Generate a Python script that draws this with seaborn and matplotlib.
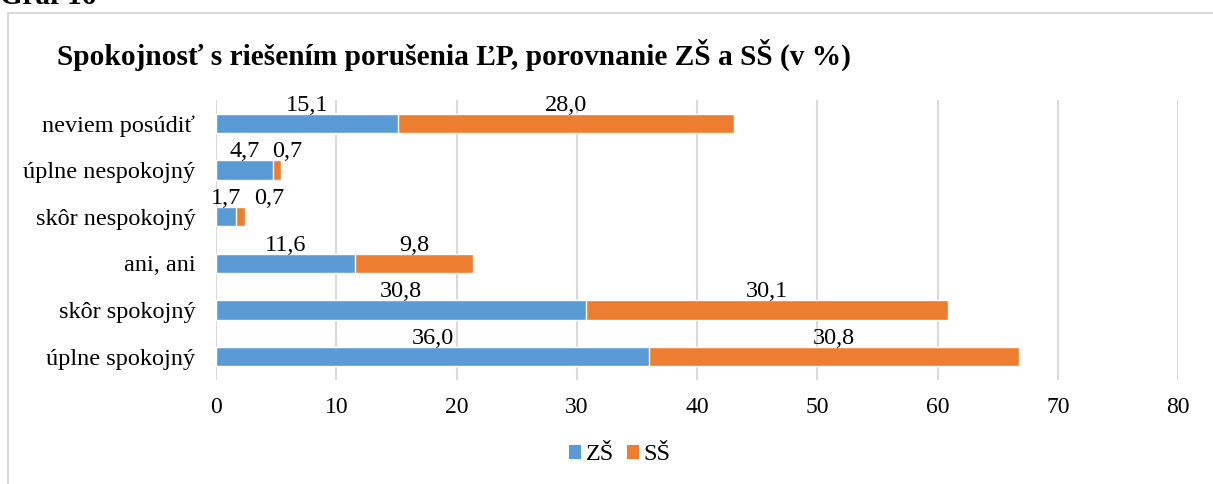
import matplotlib
matplotlib.use("Agg")
import matplotlib.pyplot as plt
import seaborn as sns
import pandas as pd
from matplotlib.patches import Patch, Rectangle

categories = ["neviem posúdiť", "úplne nespokojný", "skôr nespokojný",
              "ani, ani", "skôr spokojný", "úplne spokojný"]
zs_values = [15.1, 4.7, 1.7, 11.6, 30.8, 36.0]
ss_values = [28.0, 0.7, 0.7, 9.8, 30.1, 30.8]
series_names = ["ZŠ", "SŠ"]
x_ticks = [0, 10, 20, 30, 40, 50, 60, 70, 80]

BLUE = "#5B9BD5"
ORANGE = "#ED7D31"
GRID = "#D9D9D9"

sns.set_theme(style="white")
plt.rcParams["font.family"] = ["Liberation Serif", "DejaVu Serif"]
plt.rcParams["text.color"] = "black"
plt.rcParams["xtick.color"] = "black"
plt.rcParams["ytick.color"] = "black"

df = pd.DataFrame({"cat": categories, "zs": zs_values, "ss": ss_values})
df["total"] = df["zs"] + df["ss"]

fig = plt.figure(figsize=(12.13, 4.84), dpi=100)
ax = fig.add_axes([216 / 1213, 1 - 380 / 484, (1178 - 216) / 1213, 280 / 484])

sns.barplot(data=df, y="cat", x="total", color=ORANGE, orient="h",
            width=0.41, ax=ax, saturation=1, zorder=3)
sns.barplot(data=df, y="cat", x="zs", color=BLUE, orient="h",
            width=0.41, ax=ax, saturation=1, zorder=4)

ax.set_xlim(0, 80)
ax.set_ylim(5.5, -0.5)
ax.set_xticks(x_ticks)
ax.set_xticklabels([str(t) for t in x_ticks], fontsize=17)
ax.tick_params(axis="y", labelsize=17.5, length=0, pad=15, colors="black")
ax.tick_params(axis="x", length=0, pad=12, colors="black")
ax.set_xlabel("")
ax.set_ylabel("")
ax.xaxis.grid(True, color=GRID, linewidth=1.5, zorder=0)
ax.yaxis.grid(False)
for s in ax.spines.values():
    s.set_visible(False)
ax.set_axisbelow(True)

def fmt(v):
    return f"{v:.1f}".replace(".", ",")

for i, (z, s) in enumerate(zip(zs_values, ss_values)):
    zx = z / 2
    sx = max(z + s / 2, zx + 3.6)
    ax.text(zx, i - 0.27, fmt(z), ha="center", va="baseline", fontsize=17.5,
            color="black", zorder=5)
    ax.text(sx, i - 0.27, fmt(s), ha="center", va="baseline", fontsize=17.5,
            color="black", zorder=5)

fig.text(57 / 1213, 1 - 55 / 484, "Spokojnosť s riešením porušenia ĽP, porovnanie ZŠ a SŠ (v %)",
         fontsize=21.2, fontweight="bold", ha="left", va="center", color="black")
fig.text(0.0, 1 - 4 / 484, "Graf 16", fontsize=21, fontweight="bold", ha="left",
         va="baseline", color="black")

fig.patches.append(Rectangle((8 / 1213, -0.2), 2.0, 0.2 + (1 - 13 / 484),
                             transform=fig.transFigure, fill=False,
                             edgecolor=GRID, linewidth=1.5, zorder=0))

handles = [Patch(facecolor=BLUE, edgecolor="none"), Patch(facecolor=ORANGE, edgecolor="none")]
fig.legend(handles, series_names, loc="center", bbox_to_anchor=(620 / 1213, 1 - 455 / 484),
           ncol=2, frameon=False, fontsize=17.5, handlelength=0.5, handleheight=0.5,
           handletextpad=0.2, columnspacing=0.5, labelcolor="black")

fig.savefig("out.png", dpi=100)
